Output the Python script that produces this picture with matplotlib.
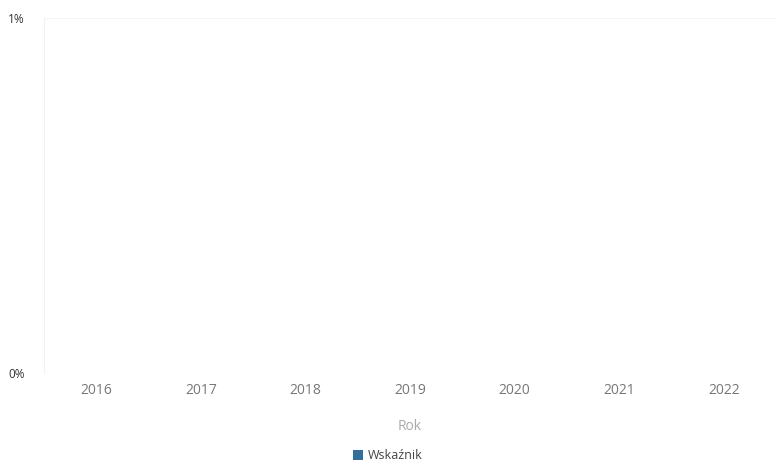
import matplotlib.pyplot as plt
import matplotlib.ticker as mticker

# dane
lata = ['2016', '2017', '2018', '2019', '2020', '2021', '2022']
wskaznik = [0, 0, 0, 0, 0, 0, 0]

plt.rcParams['font.family'] = ['Open Sans', 'DejaVu Sans']

fig = plt.figure(figsize=(7.76, 4.68), dpi=100)
ax = fig.add_axes([44 / 776, 1 - 373 / 468, 732 / 776, 355 / 468])

ax.bar(lata, wskaznik, color='#336f9c', width=0.6, label='Wskaźnik')

ax.set_xlim(-0.5, 6.5)
ax.set_ylim(0, 0.01)
ax.set_yticks([0, 0.01])
ax.yaxis.set_major_formatter(mticker.PercentFormatter(1.0, decimals=0))
ax.yaxis.grid(True, color='#f4f4f4', linewidth=0.8)
ax.set_axisbelow(True)

for s in ax.spines.values():
    s.set_visible(False)
ax.spines['left'].set_visible(True)
ax.spines['left'].set_color('#f2f2f2')
ax.tick_params(axis='both', length=0)
ax.tick_params(axis='x', colors='#777777', labelsize=10, pad=7)
ax.tick_params(axis='y', colors='#333333', labelsize=8.5, pad=26)
for lbl in ax.get_yticklabels():
    lbl.set_horizontalalignment('left')

ax.set_xlabel('Rok', color='#aaaaaa', fontsize=10, labelpad=15)

fig.legend(loc='lower center', bbox_to_anchor=(0.5, -0.012), frameon=False,
           fontsize=9, handlelength=0.8, handleheight=0.8, handletextpad=0.4,
           labelcolor='#444444')

fig.savefig('out.png', dpi=100, facecolor='white')
